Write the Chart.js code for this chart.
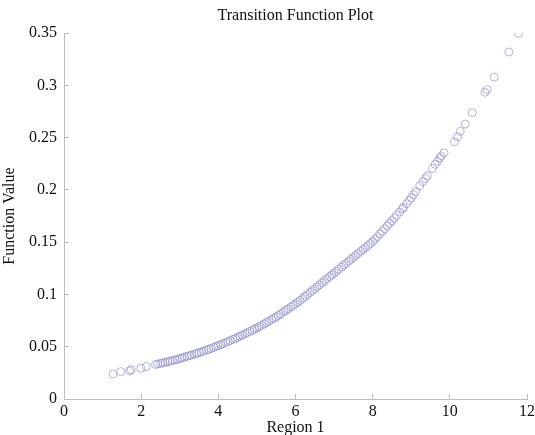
<!DOCTYPE html>
<html lang="en">
<head>
    <meta charset="UTF-8">
    <title>Transition Function Plot</title>
    <script src="https://cdn.jsdelivr.net/npm/chart.js"></script>
    <style>
        body { margin: 0; background: #fff; }
        #plot { display: block; }
    </style>
</head>
<body>
    <canvas id="plot" width="535" height="435"></canvas>
    <script>
        // values
        const regionValues = [
            1.27, 1.47, 1.70, 1.74, 1.99, 2.13, 2.37, 2.43,
            2.50, 2.56, 2.62, 2.69, 2.75, 2.81, 2.88, 2.94, 3.00,
            3.06, 3.12, 3.19, 3.25, 3.31, 3.38, 3.44, 3.50,
            3.56, 3.62, 3.69, 3.75, 3.81, 3.88, 3.94, 4.00,
            4.06, 4.12, 4.19, 4.25, 4.31, 4.38, 4.44, 4.50,
            4.56, 4.62, 4.69, 4.75, 4.81, 4.88, 4.94, 5.00,
            5.06, 5.12, 5.19, 5.25, 5.31, 5.38, 5.44, 5.50,
            5.56, 5.62, 5.69, 5.75, 5.81, 5.88, 5.94, 6.00,
            6.06, 6.12, 6.19, 6.25, 6.31, 6.38, 6.44, 6.50,
            6.56, 6.62, 6.69, 6.75, 6.81, 6.88, 6.94, 7.00,
            7.06, 7.12, 7.19, 7.25, 7.31, 7.38, 7.44, 7.50,
            7.56, 7.62, 7.69, 7.75, 7.81, 7.88, 7.94, 8.00,
            8.06, 8.12, 8.19, 8.25, 8.31, 8.38, 8.44, 8.50,
            8.56, 8.62, 8.70, 8.77, 8.80, 8.88, 8.95, 9.00,
            9.06, 9.12, 9.22, 9.30, 9.37, 9.42, 9.55, 9.62,
            9.68, 9.74, 9.78, 9.85, 10.12, 10.20, 10.27, 10.40,
            10.58, 10.91, 10.97, 11.15, 11.53, 11.78
        ];
        const functionValues = [
            0.0240, 0.0262, 0.0270, 0.0280, 0.0294, 0.0310, 0.0330, 0.0336,
            0.0340, 0.0345, 0.0351, 0.0357, 0.0362, 0.0368, 0.0374, 0.0380, 0.0387,
            0.0393, 0.0400, 0.0408, 0.0415, 0.0421, 0.0429, 0.0436, 0.0443,
            0.0451, 0.0459, 0.0468, 0.0476, 0.0484, 0.0494, 0.0503, 0.0511,
            0.0520, 0.0529, 0.0540, 0.0549, 0.0559, 0.0570, 0.0580, 0.0590,
            0.0601, 0.0612, 0.0624, 0.0635, 0.0646, 0.0658, 0.0669, 0.0680,
            0.0692, 0.0704, 0.0718, 0.0731, 0.0744, 0.0760, 0.0772, 0.0785,
            0.0800, 0.0815, 0.0833, 0.0848, 0.0863, 0.0881, 0.0896, 0.0910,
            0.0927, 0.0944, 0.0964, 0.0982, 0.1000, 0.1020, 0.1037, 0.1055,
            0.1073, 0.1091, 0.1112, 0.1130, 0.1148, 0.1169, 0.1187, 0.1205,
            0.1223, 0.1241, 0.1262, 0.1280, 0.1298, 0.1319, 0.1337, 0.1355,
            0.1373, 0.1391, 0.1412, 0.1430, 0.1448, 0.1469, 0.1487, 0.1505,
            0.1529, 0.1553, 0.1581, 0.1605, 0.1629, 0.1657, 0.1681, 0.1705,
            0.1731, 0.1757, 0.1790, 0.1820, 0.1833, 0.1868, 0.1900, 0.1925,
            0.1955, 0.1985, 0.2040, 0.2080, 0.2110, 0.2135, 0.2205, 0.2245,
            0.2275, 0.2305, 0.2325, 0.2355, 0.2460, 0.2510, 0.2560, 0.2630,
            0.2740, 0.2935, 0.2960, 0.3080, 0.3320, 0.3500
        ];
        const xTicks = [0, 2, 4, 6, 8, 10, 12];
        const yTicks = [0, 0.05, 0.1, 0.15, 0.2, 0.25, 0.3, 0.35];

        const serif = "'Liberation Serif', 'Times New Roman', serif";
        const axisGray = '#bdbdbd';

        const points = regionValues.map((x, i) => ({ x: x, y: functionValues[i] }));

        const ctx = document.getElementById('plot').getContext('2d');
        const chart = new Chart(ctx, {
            type: 'scatter',
            data: {
                datasets: [{
                    label: 'Transition',
                    data: points,
                    pointStyle: 'circle',
                    pointRadius: 4,
                    pointBorderWidth: 1,
                    borderColor: 'rgba(120, 120, 195, 0.55)',
                    backgroundColor: 'rgba(0, 0, 0, 0)'
                }]
            },
            options: {
                responsive: false,
                animation: false,
                layout: { padding: { top: 0, left: 0, right: 8, bottom: 0 } },
                plugins: {
                    legend: { display: false },
                    tooltip: { enabled: false },
                    title: {
                        display: true,
                        fullSize: false,
                        text: 'Transition Function Plot',
                        color: '#111',
                        font: { family: serif, size: 16, weight: 'normal' },
                        padding: { top: 6, bottom: 8 }
                    }
                },
                scales: {
                    x: {
                        type: 'linear',
                        min: 0,
                        max: 12,
                        afterBuildTicks: s => { s.ticks = xTicks.map(v => ({ value: v })); },
                        afterFit: s => { s.height = 36; s.paddingRight = 0; },
                        border: { color: axisGray, width: 1 },
                        grid: { drawOnChartArea: false, drawTicks: true, tickLength: -5, color: axisGray },
                        ticks: {
                            color: '#111',
                            padding: 8,
                            maxRotation: 0,
                            font: { family: serif, size: 16 },
                            callback: v => String(v)
                        },
                        title: {
                            display: true,
                            text: 'Region 1',
                            color: '#111',
                            font: { family: serif, size: 16 },
                            padding: { top: 0, bottom: -2 }
                        }
                    },
                    y: {
                        type: 'linear',
                        min: 0,
                        max: 0.35,
                        afterBuildTicks: s => { s.ticks = yTicks.map(v => ({ value: v })); },
                        afterFit: s => { s.width = 64; },
                        border: { color: axisGray, width: 1 },
                        grid: { drawOnChartArea: false, drawTicks: true, tickLength: -5, color: axisGray },
                        ticks: {
                            color: '#111',
                            padding: 12,
                            font: { family: serif, size: 16 },
                            callback: v => String(v)
                        },
                        title: {
                            display: true,
                            text: 'Function Value',
                            color: '#111',
                            font: { family: serif, size: 16 },
                            padding: { top: 0, bottom: 0 }
                        }
                    }
                }
            },
            plugins: [{
                id: 'whiteBackground',
                beforeDraw: c => {
                    c.ctx.save();
                    c.ctx.fillStyle = '#fff';
                    c.ctx.fillRect(0, 0, c.width, c.height);
                    c.ctx.restore();
                }
            }]
        });
    </script>
</body>
</html>
